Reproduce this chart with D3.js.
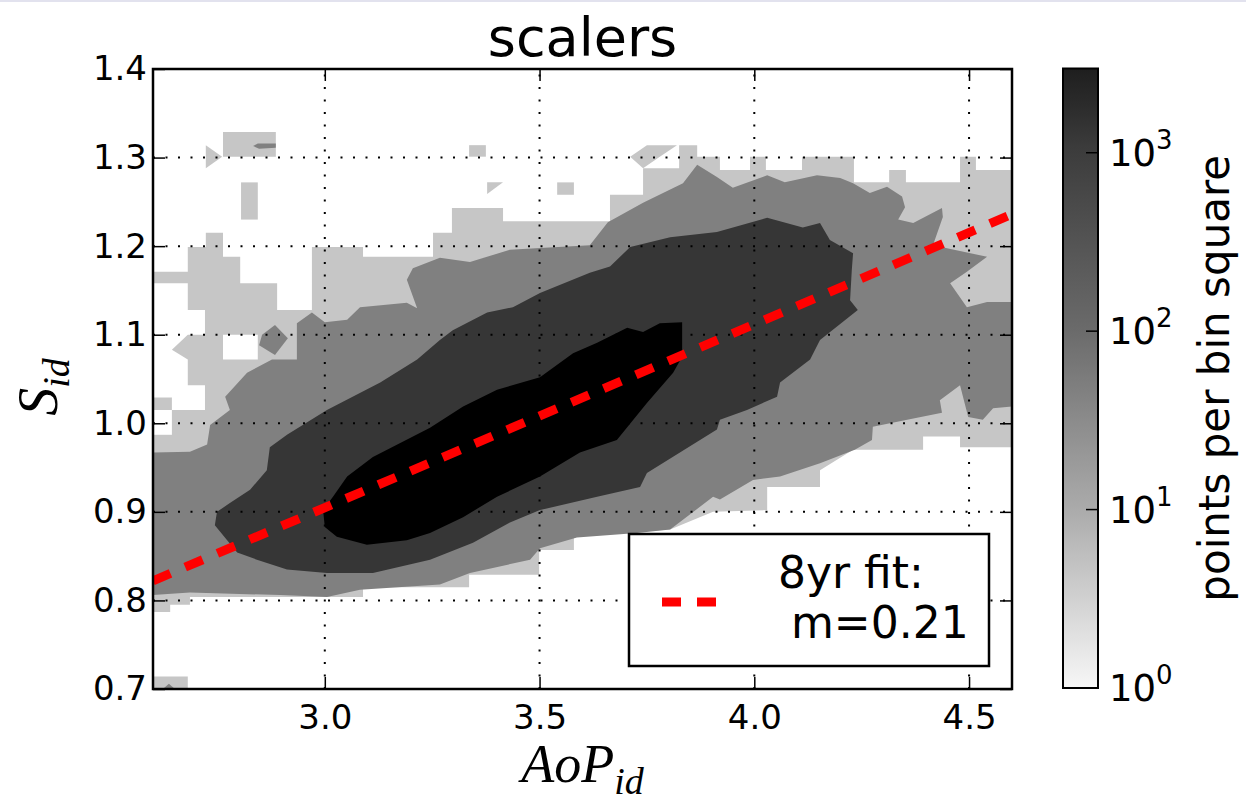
<!DOCTYPE html>
<html>
  <head>
    <meta charset="utf-8">
    <title>scalers</title>
    <style>
      body { margin: 0; background: #fff; }
      text { font-family: "DejaVu Sans", sans-serif; fill: #000; }
    </style>
  </head>
  <body>
    <script src="https://cdnjs.cloudflare.com/ajax/libs/d3/7.8.5/d3.min.js"></script>
    <script>
      // axis ticks
      let xTicks = [3.0, 3.5, 4.0, 4.5];
      let yTicks = [0.7, 0.8, 0.9, 1.0, 1.1, 1.2, 1.3, 1.4];
      let cbTicks = [1, 10, 100, 1000];
      let cbMax = 2965;

      // fit line (AoP, S) end points
      let fitX = [2.6, 4.6];
      let fitY = [0.822, 1.236];

      // contour bands, outlines in data units (AoP_id, S_id)
      let bandColors = ['#c6c6c6', '#808080', '#363636', '#000000'];

      let light = [[2.600,1.171],[2.681,1.171],[2.681,1.199],[2.723,1.199],[2.723,1.215],[2.763,1.215],[2.763,1.188],[2.803,1.188],[2.803,1.158],[2.889,1.158],[2.889,1.128],[2.970,1.128],[2.970,1.199],[3.089,1.199],[3.089,1.188],[3.252,1.188],[3.252,1.215],[3.296,1.215],[3.296,1.243],[3.415,1.243],[3.415,1.228],[3.664,1.228],[3.664,1.258],[3.741,1.258],[3.741,1.288],[3.825,1.288],[3.825,1.314],[3.867,1.314],[3.867,1.301],[3.920,1.301],[3.920,1.286],[3.990,1.286],[3.990,1.301],[4.027,1.301],[4.027,1.286],[4.111,1.286],[4.111,1.301],[4.232,1.301],[4.232,1.272],[4.314,1.272],[4.314,1.286],[4.353,1.286],[4.353,1.272],[4.479,1.272],[4.479,1.301],[4.516,1.301],[4.516,1.286],[4.600,1.286],[4.600,0.973],[4.479,0.973],[4.479,0.985],[4.393,0.985],[4.393,0.970],[4.230,0.970],[4.153,0.947],[4.153,0.928],[4.030,0.928],[4.030,0.902],[3.904,0.900],[3.804,0.880],[3.580,0.872],[3.580,0.857],[3.499,0.857],[3.499,0.829],[3.336,0.829],[3.336,0.815],[3.089,0.815],[3.089,0.804],[2.686,0.804],[2.686,0.795],[2.640,0.795],[2.640,0.787],[2.600,0.787]];

      let lightPieces = [
        [[3.711,1.301],[3.750,1.314],[3.820,1.314],[3.780,1.301],[3.741,1.288]],
        [[2.763,1.329],[2.886,1.329],[2.886,1.301],[2.763,1.301]],
        [[2.723,1.314],[2.761,1.301],[2.723,1.288]],
        [[2.805,1.272],[2.844,1.272],[2.844,1.230],[2.805,1.230]],
        [[3.336,1.314],[3.375,1.314],[3.375,1.301],[3.336,1.301]],
        [[3.378,1.272],[3.415,1.272],[3.378,1.259]],
        [[3.541,1.272],[3.580,1.272],[3.580,1.258],[3.541,1.258]],
        [[2.600,0.714],[2.681,0.714],[2.681,0.700],[2.600,0.700]]
      ];

      let lightHoles = [
        [[2.600,1.158],[2.681,1.158],[2.681,1.128],[2.721,1.128],[2.721,1.100],[2.681,1.100],[2.644,1.083],[2.681,1.072],[2.681,1.043],[2.721,1.043],[2.721,1.015],[2.644,1.015],[2.644,1.029],[2.600,1.029]],
        [[2.600,1.015],[2.644,1.015],[2.644,0.987],[2.600,0.987]],
        [[2.763,1.100],[2.844,1.100],[2.844,1.072],[2.763,1.072]]
      ];

      let medium = [[2.600,0.967],[2.686,0.968],[2.726,0.976],[2.733,0.998],[2.779,1.015],[2.768,1.030],[2.819,1.057],[2.877,1.072],[2.935,1.072],[2.935,1.113],[2.970,1.125],[3.000,1.114],[3.052,1.117],[3.082,1.131],[3.191,1.136],[3.215,1.130],[3.191,1.162],[3.205,1.175],[3.268,1.187],[3.338,1.182],[3.431,1.196],[3.501,1.198],[3.617,1.201],[3.659,1.227],[3.741,1.249],[3.834,1.271],[3.867,1.292],[3.913,1.278],[3.950,1.266],[4.030,1.280],[4.071,1.272],[4.146,1.280],[4.200,1.277],[4.230,1.271],[4.269,1.260],[4.309,1.267],[4.344,1.256],[4.351,1.244],[4.335,1.230],[4.370,1.226],[4.437,1.243],[4.439,1.233],[4.416,1.201],[4.542,1.188],[4.495,1.171],[4.456,1.158],[4.495,1.131],[4.542,1.137],[4.600,1.137],[4.600,1.019],[4.556,1.017],[4.532,1.004],[4.498,1.007],[4.479,1.043],[4.432,1.026],[4.437,1.012],[4.356,1.004],[4.276,0.996],[4.274,0.981],[4.234,0.970],[4.153,0.955],[4.060,0.940],[3.997,0.936],[3.920,0.914],[3.904,0.917],[3.804,0.880],[3.727,0.876],[3.587,0.871],[3.501,0.859],[3.478,0.846],[3.338,0.831],[3.268,0.818],[3.082,0.812],[3.005,0.804],[2.896,0.806],[2.686,0.809],[2.600,0.806]];

      let mediumPieces = [
        [[2.884,1.111],[2.914,1.096],[2.884,1.077],[2.847,1.088],[2.854,1.100]],
        [[2.833,1.313],[2.844,1.316],[2.886,1.316],[2.886,1.311],[2.847,1.310]],
        [[2.623,0.700],[2.637,0.706],[2.651,0.700]]
      ];

      let dark = [[2.744,0.885],[2.749,0.900],[2.779,0.910],[2.826,0.925],[2.865,0.947],[2.872,0.973],[2.912,0.987],[3.005,1.015],[3.129,1.046],[3.215,1.072],[3.268,1.094],[3.298,1.105],[3.378,1.125],[3.438,1.131],[3.501,1.147],[3.617,1.170],[3.664,1.177],[3.711,1.199],[3.804,1.210],[3.913,1.216],[4.030,1.232],[4.113,1.221],[4.153,1.226],[4.176,1.207],[4.230,1.192],[4.227,1.173],[4.223,1.139],[4.241,1.128],[4.153,1.094],[4.130,1.072],[4.060,1.046],[4.053,1.030],[3.983,1.015],[3.920,1.004],[3.913,0.993],[3.750,0.944],[3.734,0.928],[3.634,0.917],[3.501,0.902],[3.431,0.888],[3.345,0.865],[3.245,0.846],[3.112,0.831],[3.005,0.831],[2.912,0.835],[2.842,0.846],[2.796,0.854]];

      let black = [[2.996,0.902],[3.019,0.917],[3.052,0.940],[3.112,0.962],[3.245,0.995],[3.322,1.019],[3.401,1.038],[3.501,1.052],[3.578,1.079],[3.634,1.091],[3.704,1.108],[3.741,1.103],[3.780,1.113],[3.832,1.114],[3.832,1.075],[3.811,1.057],[3.750,1.023],[3.680,0.981],[3.594,0.967],[3.501,0.940],[3.401,0.917],[3.322,0.894],[3.245,0.876],[3.191,0.868],[3.098,0.863],[3.028,0.872],[3.000,0.883]];

      let cbColors = ['#f7f7f7', '#ababab', '#6b6b6b', '#3d3d3d', '#1e1e1e'];

      let canvas = d3.select('body')
                     .append('svg')
                     .attr('width', 1246)
                     .attr('height', 809);

      canvas.append('rect')
            .attr('x', 0).attr('y', 0)
            .attr('width', 1246).attr('height', 2)
            .attr('fill', '#e2e2ee');

      let plotLeft = 153, plotRight = 1012, plotTop = 69, plotBottom = 689;

      let xScale = d3.scaleLinear()
                     .domain([2.6, 4.6])
                     .range([plotLeft, plotRight]);

      let yScale = d3.scaleLinear()
                     .domain([0.7, 1.4])
                     .range([plotBottom, plotTop]);

      canvas.append('clipPath')
            .attr('id', 'plotArea')
            .append('rect')
            .attr('x', plotLeft).attr('y', plotTop)
            .attr('width', plotRight - plotLeft).attr('height', plotBottom - plotTop);

      let outline = d3.line()
                      .x((d) => xScale(d[0]))
                      .y((d) => yScale(d[1]))
                      .curve(d3.curveLinearClosed);

      let plot = canvas.append('g').attr('clip-path', 'url(#plotArea)');

      function fillShapes(shapes, color) {
        plot.selectAll(null)
            .data(shapes)
            .enter()
              .append('path')
              .attr('d', (d) => outline(d))
              .attr('fill', color);
      }

      fillShapes([light], bandColors[0]);
      fillShapes(lightPieces, bandColors[0]);
      fillShapes(lightHoles, '#ffffff');
      fillShapes([medium], bandColors[1]);
      fillShapes(mediumPieces, bandColors[1]);
      fillShapes([dark], bandColors[2]);
      fillShapes([black], bandColors[3]);

      // dotted grid
      plot.selectAll('.gx')
          .data(xTicks)
          .enter()
            .append('line')
            .attr('x1', (d) => xScale(d)).attr('x2', (d) => xScale(d))
            .attr('y1', plotBottom).attr('y2', plotTop)
            .attr('stroke', '#000')
            .attr('stroke-width', 2)
            .attr('stroke-dasharray', '2,10.5');

      plot.selectAll('.gy')
          .data(yTicks.slice(1, -1))
          .enter()
            .append('line')
            .attr('y1', (d) => yScale(d)).attr('y2', (d) => yScale(d))
            .attr('x1', plotLeft).attr('x2', plotRight)
            .attr('stroke', '#000')
            .attr('stroke-width', 2)
            .attr('stroke-dasharray', '2,10.5');

      // fit line
      let fitLine = d3.line()
                      .x((d) => xScale(d[0]))
                      .y((d) => yScale(d[1]));

      plot.append('path')
          .attr('d', fitLine(d3.zip(fitX, fitY)))
          .attr('fill', 'none')
          .attr('stroke', '#ff0000')
          .attr('stroke-width', 9)
          .attr('stroke-dasharray', '19,16');

      // axes with inward ticks on all four sides
      function styleAxis(g) {
        g.select('.domain').remove();
        g.selectAll('.tick line').attr('stroke', '#000').attr('stroke-width', 1.5);
        g.selectAll('.tick text').attr('font-size', 34).attr('font-family', 'DejaVu Sans').attr('fill', '#000');
      }

      canvas.append('g')
            .attr('transform', `translate(0,${plotBottom})`)
            .call(d3.axisBottom(xScale).tickValues(xTicks).tickSize(-12).tickPadding(16).tickFormat(d3.format('.1f')))
            .call(styleAxis);

      canvas.append('g')
            .attr('transform', `translate(0,${plotTop})`)
            .call(d3.axisTop(xScale).tickValues(xTicks).tickSize(-12).tickFormat(() => ''))
            .call(styleAxis);

      canvas.append('g')
            .attr('transform', `translate(${plotLeft},0)`)
            .call(d3.axisLeft(yScale).tickValues(yTicks).tickSize(-12).tickPadding(6).tickFormat(d3.format('.1f')))
            .call(styleAxis);

      canvas.append('g')
            .attr('transform', `translate(${plotRight},0)`)
            .call(d3.axisRight(yScale).tickValues(yTicks).tickSize(-12).tickFormat(() => ''))
            .call(styleAxis);

      canvas.append('rect')
            .attr('x', plotLeft).attr('y', plotTop)
            .attr('width', plotRight - plotLeft).attr('height', plotBottom - plotTop)
            .attr('fill', 'none')
            .attr('stroke', '#000')
            .attr('stroke-width', 2.5);

      // legend
      canvas.append('rect')
            .attr('x', 629).attr('y', 534)
            .attr('width', 360).attr('height', 132)
            .attr('fill', '#fff')
            .attr('stroke', '#000')
            .attr('stroke-width', 2.5);

      canvas.append('line')
            .attr('x1', 662).attr('x2', 716)
            .attr('y1', 602).attr('y2', 602)
            .attr('stroke', '#ff0000')
            .attr('stroke-width', 9)
            .attr('stroke-dasharray', '19,16');

      canvas.append('text')
            .attr('x', 778).attr('y', 588)
            .attr('font-size', 44)
            .text('8yr fit:');

      canvas.append('text')
            .attr('x', 791).attr('y', 638)
            .attr('font-size', 44)
            .text('m=0.21');

      // title and axis labels
      canvas.append('text')
            .attr('x', (plotLeft + plotRight) / 2).attr('y', 56)
            .attr('text-anchor', 'middle')
            .attr('font-size', 54)
            .text('scalers');

      let xLabel = canvas.append('text')
                         .attr('x', (plotLeft + plotRight) / 2).attr('y', 782)
                         .attr('text-anchor', 'middle')
                         .attr('font-size', 54)
                         .style('font-family', '"Liberation Serif", serif')
                         .style('font-style', 'italic');
      xLabel.append('tspan').text('AoP');
      xLabel.append('tspan').attr('font-size', 38).attr('dy', 12).text('id');

      let yLabel = canvas.append('text')
                         .attr('transform', 'translate(57,387) rotate(-90)')
                         .attr('text-anchor', 'middle')
                         .attr('font-size', 56)
                         .style('font-family', '"Liberation Serif", serif')
                         .style('font-style', 'italic');
      yLabel.append('tspan').text('S');
      yLabel.append('tspan').attr('font-size', 38).attr('dy', 12).text('id');

      // colorbar
      let cbLeft = 1063, cbRight = 1098;

      let cbScale = d3.scaleLog()
                      .domain([1, cbMax])
                      .range([688, 68.5]);

      let cbColor = d3.scaleLog()
                      .domain([1, 10, 100, 1000, cbMax])
                      .range(cbColors)
                      .interpolate(d3.interpolateRgb);

      let grad = canvas.append('defs')
                       .append('linearGradient')
                       .attr('id', 'cbGrad')
                       .attr('x1', 0).attr('x2', 0)
                       .attr('y1', 1).attr('y2', 0);

      grad.selectAll('stop')
          .data(d3.range(0, 41).map((i) => Math.pow(cbMax, i / 40)))
          .enter()
            .append('stop')
            .attr('offset', (d, i) => i / 40)
            .attr('stop-color', (d) => cbColor(d));

      canvas.append('rect')
            .attr('x', cbLeft).attr('y', cbScale(cbMax))
            .attr('width', cbRight - cbLeft)
            .attr('height', cbScale(1) - cbScale(cbMax))
            .attr('fill', 'url(#cbGrad)')
            .attr('stroke', '#000')
            .attr('stroke-width', 2);

      canvas.selectAll('.cbtick')
            .data(cbTicks)
            .enter()
              .append('line')
              .attr('x1', cbRight - 12).attr('x2', cbRight)
              .attr('y1', (d) => cbScale(d)).attr('y2', (d) => cbScale(d))
              .attr('stroke', '#000')
              .attr('stroke-width', 1.5);

      let cbLabels = canvas.selectAll('.cblabel')
                           .data(cbTicks)
                           .enter()
                             .append('text')
                             .attr('x', 1109)
                             .attr('y', (d) => cbScale(d) + 13)
                             .attr('font-size', 37);
      cbLabels.append('tspan').text('10');
      cbLabels.append('tspan')
              .attr('font-size', 26)
              .attr('dy', -17)
              .text((d) => Math.round(Math.log10(d)));

      canvas.append('text')
            .attr('transform', `translate(1229,${(cbScale(1) + cbScale(cbMax)) / 2}) rotate(-90)`)
            .attr('text-anchor', 'middle')
            .attr('font-size', 42)
            .text('points per bin square');
    </script>
  </body>
</html>
